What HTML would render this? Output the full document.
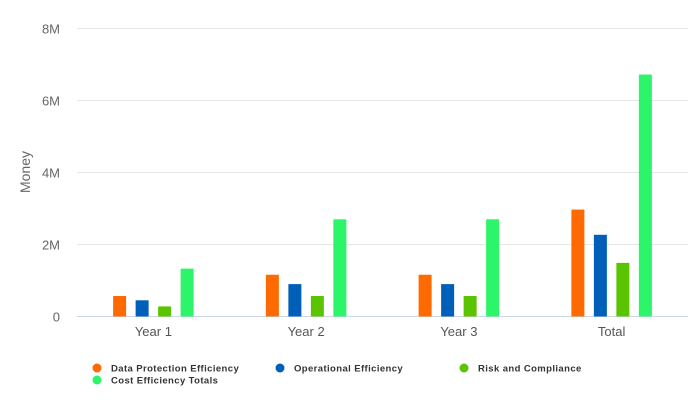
<!DOCTYPE html>
<html><head><meta charset="utf-8"><style>
html,body{margin:0;padding:0;background:#fff;width:700px;height:408px;overflow:hidden}
text{font-family:"Liberation Sans",sans-serif}
</style></head><body>
<svg id="chart" width="700" height="408" xmlns="http://www.w3.org/2000/svg"></svg>
<script>
const categories = ["Year 1","Year 2","Year 3","Total"];
const seriesNames = ["Data Protection Efficiency","Operational Efficiency","Risk and Compliance","Cost Efficiency Totals"];
const dataProtection = [0.57,1.16,1.16,2.97];
const operational = [0.45,0.9,0.9,2.27];
const risk = [0.28,0.57,0.57,1.49];
const costTotals = [1.33,2.7,2.7,6.72];
const yTicks = [0,2,4,6,8];
const yTickLabels = ["0","2M","4M","6M","8M"];
const colors = ["#ff6a00","#005fb8","#5ac400","#2cf56a"];
const series = [dataProtection,operational,risk,costTotals];

const NS="http://www.w3.org/2000/svg";
const svg=document.getElementById('chart');
const x0=77,x1=688,y0=316.5,pxPerM=36;
const yScale=v=>y0-v*pxPerM;
const bandW=(x1-x0)/categories.length;
const xCenter=i=>x0+bandW*(i+0.5);
function mk(tag,attrs){const e=document.createElementNS(NS,tag);for(const k in attrs)e.setAttribute(k,attrs[k]);svg.appendChild(e);return e;}

yTicks.forEach((t,i)=>{
  if(t>0){const g=mk('line',{x1:x0,x2:x1,y1:yScale(t),y2:yScale(t),stroke:'#e6e6e6','stroke-width':1});
  
  }
  const l=mk('text',{x:60,y:yScale(t)+5,'text-anchor':'end','font-size':13,fill:'#666'});
  l.textContent=yTickLabels[i];
  
  
});
const axis=mk('line',{x1:x0,x2:x1,y1:y0,y2:y0,stroke:'#ccd6eb','stroke-width':1});



const yt=mk('text',{x:30,y:172,'text-anchor':'middle','font-size':14,fill:'#666',transform:'rotate(-90 30 172)'});
yt.textContent='Money';



const barW=13,step=22.5;
categories.forEach((c,i)=>{
  series.forEach((s,j)=>{
    const cx=xCenter(i)+(j-1.5)*step;
    const b=mk('rect',{x:cx-barW/2,y:yScale(s[i]),width:barW,height:y0-yScale(s[i]),fill:colors[j]});
    
    
  });
  const l=mk('text',{x:xCenter(i),y:336,'text-anchor':'middle','font-size':13,fill:'#555'});
  l.textContent=c;
  
  
});

const legPos=[[97,368],[280,368],[464,368],[97,380]];
seriesNames.forEach((n,j)=>{
  const [lx,ly]=legPos[j];
  const c=mk('circle',{cx:lx,cy:ly,r:4.5,fill:colors[j]});
  
  
  const t=mk('text',{x:lx+14,y:ly+3.5,'font-size':9.5,'font-weight':'bold',fill:'#333','letter-spacing':'0.4'});
  t.textContent=n;
  
  
});
</script>
</body></html>
